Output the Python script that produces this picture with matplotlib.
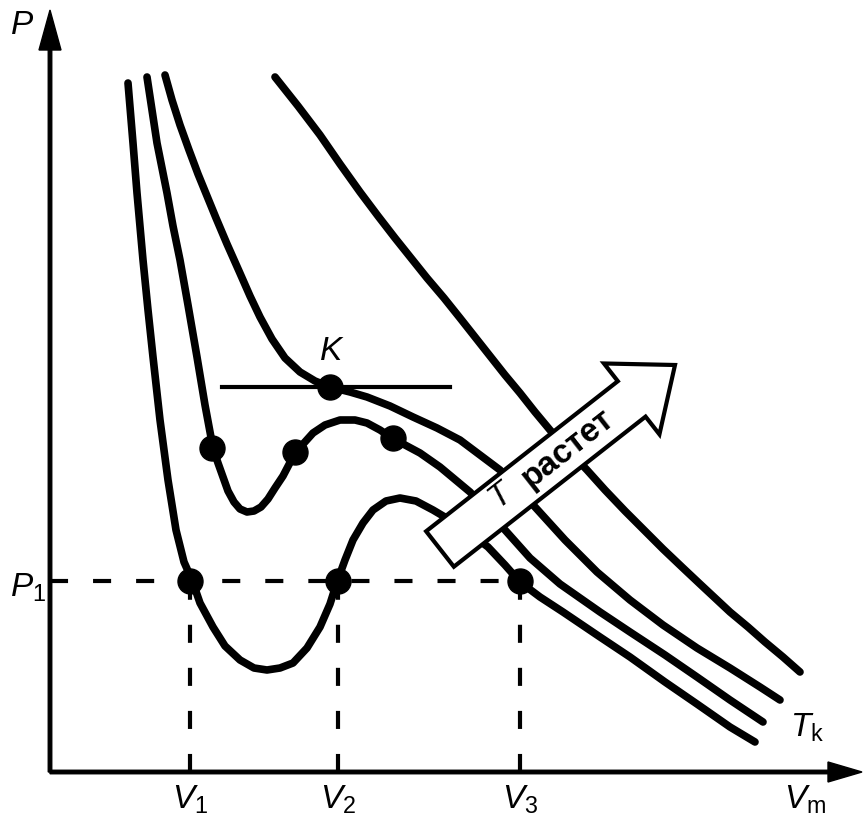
import numpy as np
import matplotlib
matplotlib.use("Agg")
import matplotlib.pyplot as plt
import matplotlib.patches as mpatches

plt.rcParams['mathtext.fontset'] = 'custom'
plt.rcParams['mathtext.it'] = 'Liberation Sans:italic'
plt.rcParams['mathtext.rm'] = 'Liberation Sans'
plt.rcParams['font.family'] = ['Liberation Sans', 'DejaVu Sans']
plt.rcParams['lines.scale_dashes'] = False

# isotherms (V, P in arbitrary units)
vA = [78, 83, 87, 93, 98, 103, 110, 118, 126, 134, 142, 150, 163, 175, 190, 204, 217, 230, 243, 257,
      270, 280, 287, 295, 303, 313, 323, 336, 350, 366, 383, 410, 438, 455, 470, 490, 513, 550, 580,
      615, 647, 680, 705]
pA = [689, 629, 579, 512, 462, 415, 352, 292, 242, 210, 192, 169, 145, 126, 112, 104, 102, 104, 109, 124,
      145, 168, 190, 212, 232, 249, 262, 271, 274, 271, 262, 246, 225, 207, 190, 175, 160, 135, 115,
      90, 68, 45, 30]

vB = [97, 102, 107, 112, 117, 123, 130, 138, 147, 155, 163, 168, 173, 178, 184, 190, 197, 204, 211, 218,
      225, 233, 245, 263, 275, 290, 305, 317, 330, 342, 370, 390, 420, 455, 480, 510, 550, 580, 615, 647,
      680, 713]
pB = [695, 662, 629, 604, 579, 546, 512, 467, 415, 367, 324, 309, 295, 281, 270, 263, 260, 261, 265, 273,
      284, 296, 319, 339, 347, 352, 352, 349, 342, 334, 319, 305, 280, 242, 214, 188, 160, 140, 117, 95,
      72, 50]

vC = [115, 122, 130, 139, 148, 157, 166, 177, 189, 200, 210, 222, 235, 250, 265, 280, 300, 317, 340, 363,
      387, 410, 450, 485, 515, 547, 580, 613, 647, 680, 710, 730]
pC = [697, 672, 647, 622, 598, 576, 554, 528, 501, 476, 455, 433, 414, 400, 391, 385, 380, 375, 366, 355,
      344, 332, 302, 265, 232, 200, 172, 147, 124, 104, 85, 72]

vD = [225, 248, 270, 290, 310, 328, 345, 361, 377, 394, 410, 425, 440, 455, 470, 485, 500, 518, 537, 555,
      575, 595, 613, 633, 650, 665, 680, 698, 715, 733, 750]
pD = [695, 666, 637, 608, 580, 556, 534, 514, 494, 474, 454, 435, 416, 397, 379, 360, 342, 322, 302, 282,
      261, 241, 223, 204, 188, 174, 160, 145, 130, 115, 100]

# marked points
P1 = 191
V_marks = [140, 288, 470]
V_labels = [r'$V_{\mathrm{1}}$', r'$V_{\mathrm{2}}$', r'$V_{\mathrm{3}}$']
vB_dots = [162, 245, 343]
pB_dots = [324, 320, 334]
vK, pK = 280, 385

fig = plt.figure(figsize=(8.64, 8.22), dpi=100)
ax = fig.add_axes([0, 0, 1, 1])
ax.set_xlim(-50, 814)
ax.set_ylim(-50, 772)
ax.axis('off')

lw = 5.5
for v, p in [(vA, pA), (vB, pB), (vC, pC), (vD, pD)]:
    ax.plot(v, p, color='black', lw=lw, solid_capstyle='round', solid_joinstyle='round', zorder=2)

# axes with arrows
ax.add_patch(mpatches.FancyArrow(0, 0, 0, 762, width=3.5, head_width=22, head_length=40,
                                 length_includes_head=True, color='black', zorder=4))
ax.add_patch(mpatches.FancyArrow(0, 0, 812, 0, width=3.5, head_width=20, head_length=34,
                                 length_includes_head=True, color='black', zorder=4))

# dashed guides
ax.plot([0, V_marks[2]], [P1, P1], color='black', lw=3, dashes=(13, 18), zorder=1)
for v in V_marks:
    ax.plot([v, v], [0, P1], color='black', lw=3, dashes=(13, 18), zorder=1)

# critical tangent
ax.plot([172, 400], [pK, pK], color='black', lw=3, zorder=2)

ax.plot(V_marks, [P1] * 3, 'o', color='black', ms=18, zorder=3)
ax.plot(vB_dots, pB_dots, 'o', color='black', ms=18, zorder=3)
ax.plot([vK], [pK], 'o', color='black', ms=18, zorder=3)

# "T grows" arrow
ax.add_patch(mpatches.FancyArrow(390, 223, 235, 184, width=45, head_width=90, head_length=55,
                                 length_includes_head=True, fc='white', ec='black', lw=3,
                                 joinstyle='miter', zorder=5))
ang = np.degrees(np.arctan2(184, 235))
ax.text(518, 324, 'растет', fontsize=24, fontweight='bold', rotation=ang, rotation_mode='anchor',
        ha='center', va='center', zorder=6)
ax.text(452, 276, r'$T$', fontsize=24, rotation=ang, rotation_mode='anchor',
        ha='center', va='center', zorder=6)

# labels
fs = 24
ax.text(-28, 746, r'$P$', fontsize=fs, ha='center', va='center')
ax.text(-22, 184, r'$P_{\mathrm{1}}$', fontsize=fs, ha='center', va='center')
for v, lab in zip(V_marks, V_labels):
    ax.text(v, -28, lab, fontsize=fs, ha='center', va='center')
ax.text(755, -28, r'$V_{\mathrm{m}}$', fontsize=fs, ha='center', va='center')
ax.text(282, 421, r'$K$', fontsize=fs, ha='center', va='center')
ax.text(757, 44, r'$T_{\mathrm{k}}$', fontsize=fs, ha='center', va='center')

fig.savefig('out.png', dpi=100)
